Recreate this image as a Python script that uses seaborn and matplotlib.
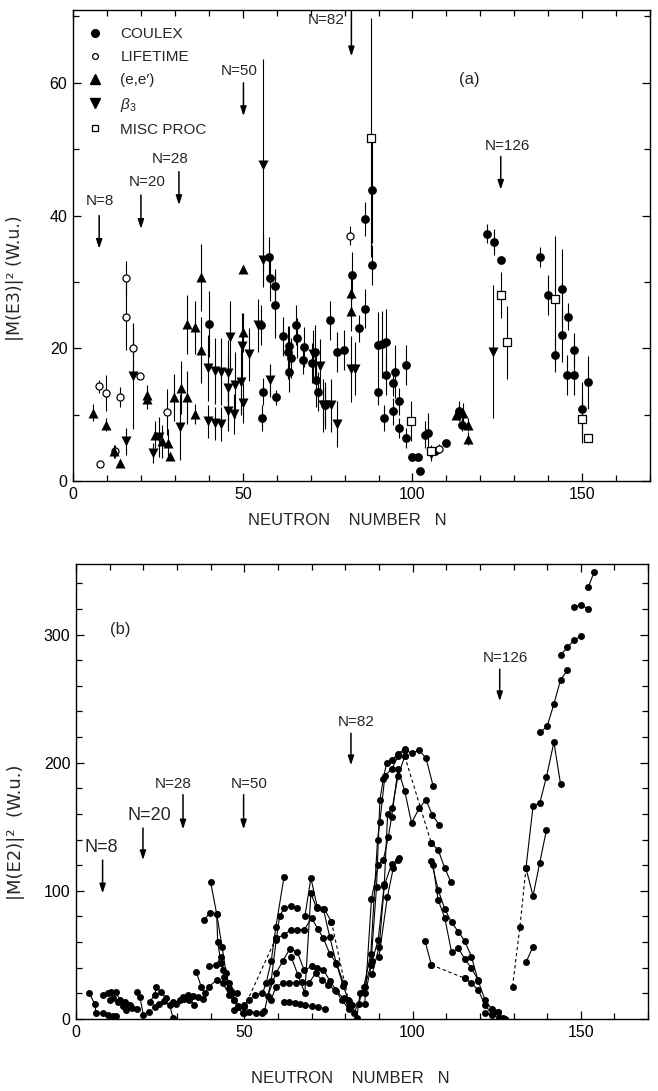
import matplotlib
matplotlib.use("Agg")
import matplotlib.pyplot as plt
import seaborn as sns
import pandas as pd
from matplotlib.lines import Line2D
from matplotlib.ticker import MultipleLocator

# ---------------- (a) |M(E3)|^2 data ----------------
coulex_n = [40, 55.9, 55.8, 57.6, 58, 59.6, 59.6, 59.8, 61.9, 63.6, 63.3, 64.2, 63.7, 65.8, 66,
            67.7, 68.1, 70.3, 71.4, 71.7, 72.2, 74.1, 75.8, 77.8, 79.7, 82.1, 84.2, 86.0, 86.1,
            88.0, 88.0, 89.9, 90.9, 92.1, 89.9, 91.7, 92.2, 94.2, 94.9, 96.1, 94.2, 98.2, 96.0,
            98.2, 99.8, 101.7, 102.2, 103.6, 104.5, 106.5, 110.0, 113.8, 114.6, 122.0, 124.0,
            126.0, 137.5, 139.8, 143.9, 145.7, 143.9, 142.0, 147.6, 145.6, 147.6, 149.8, 151.8, 55.5]
coulex_v = [23.7, 13.5, 9.5, 33.8, 30.6, 29.4, 26.5, 12.6, 21.8, 20.4, 19.4, 18.5, 16.5, 23.5, 21.5,
            18.2, 20.2, 17.8, 19.5, 15.2, 13.5, 11.4, 24.2, 19.5, 19.8, 31.0, 23.0, 39.5, 26.0,
            43.8, 32.6, 20.5, 20.6, 21.0, 13.5, 9.5, 16.0, 14.8, 16.5, 12.0, 10.5, 17.5, 8.0,
            6.5, 3.6, 3.6, 1.6, 7.0, 7.2, 4.6, 5.7, 10.5, 8.5, 37.3, 36.0,
            33.3, 33.8, 28.0, 29.0, 24.8, 22.0, 19.0, 19.8, 16.0, 16.0, 10.9, 14.9, 23.5]
coulex_e = [5.0, 2.0, 2.0, 3.0, 3.5, 2.5, 5.0, 1.2, 3.0, 3.0, 4.0, 3.0, 3.0, 3.0, 3.0,
            2.0, 3.0, 3.0, 4.0, 4.0, 3.0, 3.0, 3.0, 3.0, 3.0, 3.5, 2.0, 2.5, 3.0,
            8.0, 3.0, 5.0, 5.0, 5.0, 2.0, 2.0, 3.0, 2.0, 4.0, 2.0, 2.0, 3.0, 1.5,
            1.5, 0.0, 0.0, 0.0, 2.0, 3.0, 0.5, 0.0, 1.5, 1.0, 1.5, 2.0,
            0.0, 1.5, 3.0, 6.0, 2.0, 4.0, 2.5, 2.5, 3.0, 3.0, 4.0, 4.0, 3.0]

lifetime_n = [7.7, 9.7, 7.8, 12.3, 13.8, 15.7, 15.7, 17.7, 19.6, 27.7, 81.5, 107.8]
lifetime_v = [14.3, 13.3, 2.6, 4.5, 12.7, 30.6, 24.7, 20.1, 15.8, 10.4, 37.0, 4.9]
lifetime_e = [1.0, 2.7, 0.0, 1.0, 1.5, 2.5, 5.0, 3.5, 0.0, 3.5, 1.5, 0.7]

ee_n = [5.8, 9.8, 12.1, 13.9, 21.9, 21.9, 24.1, 26.1, 28.0, 28.5, 29.7, 31.7, 33.7, 33.7,
        35.8, 35.8, 37.8, 37.8, 50.2, 50.2, 82.0, 82.0, 112.8, 114.8, 116.3, 116.3]
ee_v = [10.3, 8.5, 4.5, 2.7, 13.0, 12.3, 7.0, 6.0, 5.8, 3.8, 12.6, 14.1, 12.6, 23.6,
        23.2, 10.1, 30.7, 19.8, 31.9, 22.4, 28.3, 25.6, 10.0, 10.2, 8.5, 6.4]
ee_e = [1.3, 1.0, 1.0, 0.0, 1.5, 1.5, 2.0, 2.5, 2.0, 0.5, 3.5, 4.0, 4.0, 4.5,
        4.0, 1.5, 5.0, 5.0, 0.5, 3.0, 3.0, 3.0, 0.5, 1.5, 1.0, 1.0]

beta3_n = [15.5, 17.8, 23.6, 25.4, 31.6, 39.7, 41.7, 43.6, 45.6, 39.7, 41.7, 43.6, 46.1, 45.6,
           47.8, 49.5, 49.8, 50.0, 51.7, 45.6, 47.5, 54.5, 55.9, 55.9, 57.9, 70.6, 72.7, 73.5,
           74.1, 76.1, 77.8, 82.0, 83.0, 105.6, 123.8]
beta3_v = [6.0, 15.8, 4.3, 6.7, 8.2, 17.0, 16.6, 16.5, 16.3, 9.0, 8.7, 8.6, 21.7, 14.0,
           14.5, 14.9, 20.3, 11.8, 19.1, 10.6, 10.1, 23.5, 47.6, 33.3, 15.2, 19.2, 17.4, 11.4,
           11.4, 11.4, 8.6, 16.9, 16.9, 4.1, 19.5]
beta3_e = [2.0, 8.0, 1.5, 3.0, 5.0, 5.0, 5.0, 5.0, 5.0, 2.5, 2.5, 2.5, 5.5, 5.0,
           5.0, 5.0, 5.0, 3.0, 4.0, 3.0, 3.0, 4.0, 16.0, 4.0, 2.5, 3.5, 4.0, 4.0,
           3.5, 4.0, 3.5, 5.0, 4.0, 1.0, 10.0]

misc_n = [87.8, 99.7, 105.6, 126.0, 127.8, 141.9, 149.8, 151.8]
misc_v = [51.7, 9.1, 4.5, 28.0, 20.9, 27.4, 9.3, 6.5]
misc_e = [18.0, 3.0, 1.0, 3.5, 5.5, 9.5, 3.5, 0.3]

legend_labels = ["COULEX", "LIFETIME", "(e,e\u2032)", r"$\beta_3$", "MISC PROC"]

# shell closures: label, arrow N, text N, text y, arrow start, arrow end
shells_a_label = ["N=8", "N=20", "N=28", "N=50", "N=82", "N=126"]
shells_a_n = [7.7, 20.0, 31.2, 50.2, 82.0, 126.0]
shells_a_tx = [7.9, 21.8, 28.5, 48.8, 74.7, 128.0]
shells_a_ty = [41.2, 44.0, 47.4, 60.8, 69.4, 49.5]
shells_a_y0 = [40.0, 43.1, 46.6, 60.0, 70.8, 48.9]
shells_a_y1 = [35.0, 38.0, 41.6, 55.0, 64.0, 43.9]

# ---------------- (b) |M(E2)|^2 data (isotopic chains) ----------------
c01_n = [4, 5.5, 6, 8, 9.5, 11, 12];              c01_v = [20, 12, 5, 4.4, 3, 2.3, 2.3]
c02_n = [8, 9.5, 10.5, 11.8, 13, 14.5, 16];       c02_v = [19, 20, 21, 21.4, 15, 13.5, 11]
c03_n = [10, 11, 12.5, 14, 15];                   c03_v = [15, 16, 13, 10, 7]
c04_n = [15.5, 16.5, 18];                         c04_v = [11, 8.3, 7.6]
c05_n = [18, 19, 20, 21.7];                       c05_v = [21, 17.4, 3, 5.7]
c06_n = [21.9, 23.4, 23.9, 25.3, 26.8];           c06_v = [13.5, 18.8, 25, 21, 16]
c07_n = [23.4, 24.7, 26, 27.8, 28.8];             c07_v = [9.6, 12, 14, 11, 1]
c08_n = [28.8, 29.8, 30.8, 32.2, 33.7, 35.2];     c08_v = [13.5, 12, 14.8, 15.4, 14.8, 11]
c09_n = [31.8, 33.2, 34.7, 36.2, 37.7];           c09_v = [17.4, 18.8, 18, 17.4, 15.4]
c10_n = [35.7, 37.2, 38.2, 39.6, 41.8, 43.6, 45.6, 47, 48, 49.5]
c10_v = [37, 25.3, 20.6, 25.3, 30.5, 27.9, 18.8, 14.8, 9.6, 4.4]
c11_n = [40, 41.8, 42.1, 43.1, 44.1, 45.6, 47];   c11_v = [107, 82, 60, 43.5, 33, 24, 15]
c12_n = [38, 39.8, 41.8, 43.4, 44.6, 46, 47.7];   c12_v = [77, 83, 82, 56.5, 35.7, 22, 20]
c13_n = [39.6, 41.6, 43.1, 43.8, 45.4, 46.5, 48]; c13_v = [41, 42, 48.7, 38.3, 27.9, 20, 10]
c14_n = [50, 51.5, 53.5, 55.4];                   c14_v = [5, 5.7, 5, 4.4]
c15_n = [47, 49.8, 51.5, 53.3, 55.4, 56.5, 58, 59.4, 61.8]
c15_v = [7, 11, 14.8, 18.8, 20, 28, 45, 72, 110.7]
c16_n = [56, 58, 59.5, 60.5, 61.8, 63.8, 65.8];   c16_v = [6, 30, 62, 80, 86.5, 88, 86.5]
c17_n = [50, 59.4];                               c17_v = [9, 63]          # dashed
c18_n = [59.4, 61.8, 63.8, 65.6, 67.8, 70, 71.9, 73.5, 75.4, 77.4, 79.5]
c18_v = [63, 65.6, 69.5, 69.5, 69.5, 79, 70, 63, 51, 43.5, 28]
c19_n = [57, 59.4, 61.4, 63.6, 65.8, 67.8, 70, 71.5, 73.5, 75.4, 77.4, 79.5, 81]
c19_v = [18, 35.7, 45, 55, 52, 38, 41, 39.6, 38.3, 30, 22, 16, 10]
c20_n = [58, 59.4, 61.4, 63.3, 65.3, 67.3, 69.2, 71.2, 73, 75, 77, 79, 81]
c20_v = [15, 25.3, 27.9, 27.9, 28.4, 29.2, 28, 35.7, 30.5, 26.6, 22.7, 14.8, 8]
c21_n = [61.8, 63.4, 65, 66.5, 68, 70, 72, 74];   c21_v = [13.5, 13, 12.5, 12, 11, 10, 9, 8]
c22_n = [64, 66, 68, 69.8, 71.5, 73.5, 75.4, 77.4, 79.4, 81]
c22_v = [48, 34, 20, 98, 86.5, 85.7, 64, 43, 26, 14]
c23_n = [68, 69.8, 71.7, 73.7, 75.9];             c23_v = [80, 110, 87, 86, 76]
c24_n = [75.9, 80.9];                             c24_v = [76, 14.8]       # dashed
c25_n = [80.9, 81.9, 83.4, 84.4, 85.8, 87.6, 89.3, 90.3, 91.3, 92.3, 93.8, 95.7, 97.7]
c25_v = [14.8, 11, 0.5, 20, 25, 42, 103, 171, 187, 200, 202, 207, 211]
c26_n = [82.5, 84, 85.5, 87.6, 89.6, 90.3, 91.8, 93.8, 95.7, 97.7, 99.7, 102, 104, 106.1]
c26_v = [5, 12, 25, 51, 140, 154, 190, 195, 205, 210, 207.5, 209.6, 203.6, 182]
c27_n = [85.8, 87.8, 89.8, 91.3, 92.8, 93.8, 95.7, 97.7, 99.7, 102, 104, 105.9, 107.9]
c27_v = [12, 94, 120, 124, 142, 158, 195, 177.6, 153, 164.6, 171, 159, 151.6]
c28_n = [86, 88, 89.8, 91.6, 92.6, 94, 95.7, 97.7]; c28_v = [20, 45, 62, 105, 160, 165, 190, 205]
c29_n = [97.7, 105.6];                            c29_v = [205, 137]       # dashed
c30_n = [105.6, 107.6, 109.6, 111.4];             c30_v = [137, 132, 117.7, 106.8]
c31_n = [88, 90.1, 91.6, 93.8, 95.7];             c31_v = [35, 56.5, 104, 121, 124]
c32_n = [90, 92.5, 94.3, 96];                     c32_v = [48, 95, 118, 125.5]
c33_n = [105.6, 107.6, 109.6, 111.6, 113.6, 115.5, 117.5, 119.5, 121.5, 123.5, 125.4]
c33_v = [123, 100.8, 85.7, 75.3, 68.2, 61, 48.7, 29.7, 15, 8, 5.7]
c34_n = [106.1, 107.6, 109.6, 111.6, 113.6, 115.5, 117.5, 119.5]
c34_v = [120, 93, 78.6, 52, 55.2, 46.9, 39.6, 30.5]
c35_n = [103.7, 105.6];                           c35_v = [61, 42.2]
c36_n = [105.6, 115.5];                           c36_v = [42.2, 31.8]     # dashed
c37_n = [115.5, 117.5, 119.5, 121.5, 123.5, 125.6, 127.4]
c37_v = [31.8, 27.9, 22.7, 11, 4, 0.5, 0]
c38_n = [121.5, 123.5, 125.4, 127];               c38_v = [4.4, 3.1, 5.7, 0.5]
c39_n = [129.7, 131.9, 133.7];                    c39_v = [25.3, 72, 117.7]  # dashed
c40_n = [133.7, 135.8, 137.8, 139.8, 142, 144];   c40_v = [117.7, 166, 168.5, 189, 216, 183]
c41_n = [133.7, 135.8, 137.8, 139.8];             c41_v = [117.7, 96, 122, 147.6]
c42_n = [133.8, 135.8];                           c42_v = [44.8, 56.5]
c43_n = [138, 140, 142, 144, 146];                c43_v = [223.7, 228.4, 245.8, 264.8, 272]
c44_n = [144, 146, 148, 150];                     c44_v = [284, 290, 295.6, 298.7]
c45_n = [148, 150, 152];                          c45_v = [321.4, 323.4, 320]
c46_n = [152.2, 154];                             c46_v = [337, 349]

dashed_chains = ["c17", "c24", "c29", "c36", "c39"]

shells_b_label = ["N=8", "N=20", "N=28", "N=50", "N=82", "N=126"]
shells_b_n = [7.9, 19.9, 31.8, 49.8, 81.7, 125.9]
shells_b_tx = [7.6, 21.9, 29.0, 51.5, 83.4, 127.7]
shells_b_ty = [127, 152, 178, 178, 226, 276]
shells_b_y0 = [124, 149, 175, 175, 223, 273]
shells_b_y1 = [98, 124, 148, 148, 198, 248]

# ---------------- styling ----------------
sns.set_theme(style="ticks")
plt.rcParams['font.family'] = ['Liberation Sans', 'DejaVu Sans']
plt.rcParams['mathtext.fontset'] = 'custom'
plt.rcParams['mathtext.rm'] = 'Liberation Sans'
plt.rcParams['mathtext.it'] = 'Liberation Sans:italic'

fig = plt.figure(figsize=(6.58, 10.91), dpi=100)
fig.patch.set_facecolor('white')
ax1 = fig.add_axes([0.111, 0.559, 0.877, 0.432])
ax2 = fig.add_axes([0.1155, 0.066, 0.8695, 0.417])

for ax in (ax1, ax2):
    ax.set_facecolor('white')
    for sp in ax.spines.values():
        sp.set_linewidth(1.0)
        sp.set_color('black')
    ax.tick_params(which='both', direction='in', top=True, right=True,
                   colors='black', labelsize=11.5, width=0.9)
    ax.tick_params(which='major', length=6, pad=4)
    ax.tick_params(which='minor', length=4)
    ax.xaxis.set_major_locator(MultipleLocator(50))
    ax.xaxis.set_minor_locator(MultipleLocator(10))
    ax.set_xlim(0, 170)


def arrow(ax, n, y0, y1):
    ax.annotate('', xy=(n, y1), xytext=(n, y0),
                arrowprops=dict(arrowstyle='-|>,head_length=0.55,head_width=0.18',
                                color='black', lw=1.1, shrinkA=0, shrinkB=0,
                                mutation_scale=10))

# ---- panel (a) ----
err_kw = dict(fmt='none', ecolor='black', elinewidth=0.8, capsize=0, zorder=2)
ax1.errorbar(coulex_n, coulex_v, yerr=coulex_e, **err_kw)
ax1.errorbar(lifetime_n, lifetime_v, yerr=lifetime_e, **err_kw)
ax1.errorbar(ee_n, ee_v, yerr=ee_e, **err_kw)
ax1.errorbar(beta3_n, beta3_v, yerr=beta3_e, **err_kw)
ax1.errorbar(misc_n, misc_v, yerr=misc_e, **err_kw)

sns.scatterplot(x=coulex_n, y=coulex_v, marker='o', color='black', s=40,
                linewidth=0, ax=ax1, zorder=3)
sns.scatterplot(x=lifetime_n, y=lifetime_v, marker='o', color='white', edgecolor='black',
                s=26, linewidth=0.9, ax=ax1, zorder=3)
sns.scatterplot(x=ee_n, y=ee_v, marker='^', color='black', s=52,
                linewidth=0, ax=ax1, zorder=3)
sns.scatterplot(x=beta3_n, y=beta3_v, marker='v', color='black', s=52,
                linewidth=0, ax=ax1, zorder=3)
sns.scatterplot(x=misc_n, y=misc_v, marker='s', color='white', edgecolor='black',
                s=40, linewidth=0.9, ax=ax1, zorder=3)

ax1.set_ylim(0, 71)
ax1.yaxis.set_major_locator(MultipleLocator(20))
ax1.yaxis.set_minor_locator(MultipleLocator(10))
ax1.set_xlabel('NEUTRON    NUMBER   N', fontsize=12)
ax1.set_ylabel('|M(E3)|\u00b2 (W.u.)', fontsize=12.5, family=['DejaVu Sans'])
ax1.xaxis.set_label_coords(0.475, -0.068)
ax1.yaxis.set_label_coords(-0.085, 0.43)

handles = [
    Line2D([], [], ls='none', marker='o', color='black', ms=5.5),
    Line2D([], [], ls='none', marker='o', mfc='white', mec='black', ms=4.2, mew=0.9),
    Line2D([], [], ls='none', marker='^', color='black', ms=6.5),
    Line2D([], [], ls='none', marker='v', color='black', ms=6.5),
    Line2D([], [], ls='none', marker='s', mfc='white', mec='black', ms=4.2, mew=0.9),
]
ax1.legend(handles, legend_labels, loc='upper left', bbox_to_anchor=(0.0, 0.963),
           frameon=False, fontsize=11, handlelength=2.9, handletextpad=0.2,
           labelspacing=0.58, borderaxespad=0.0, borderpad=0.0)

for lab, n, tx, ty, y0, y1 in zip(shells_a_label, shells_a_n, shells_a_tx, shells_a_ty,
                                  shells_a_y0, shells_a_y1):
    arrow(ax1, n, y0, y1)
    ax1.text(tx, ty, lab, ha='center', va='bottom' if lab != "N=82" else 'center',
             fontsize=11)
ax1.text(116.8, 60.5, '(a)', ha='center', va='center', fontsize=12)

# ---- panel (b) ----
chains = {}
for i in range(1, 47):
    key = f"c{i:02d}"
    chains[key] = (globals()[key + "_n"], globals()[key + "_v"])

rows = []
for key, (ns, vs) in chains.items():
    for n, v in zip(ns, vs):
        rows.append({"chain": key, "N": n, "B": v,
                     "dashed": key in dashed_chains})
df = pd.DataFrame(rows)

sns.lineplot(data=df[~df.dashed], x="N", y="B", units="chain", estimator=None, sort=False,
             color='black', lw=0.8, marker='o', markersize=5, markeredgewidth=0,
             ax=ax2, zorder=3)
sns.lineplot(data=df[df.dashed], x="N", y="B", units="chain", estimator=None, sort=False,
             color='black', lw=0.8, linestyle=(0, (3, 2.5)), marker='o', markersize=5,
             markeredgewidth=0, ax=ax2, zorder=3)

ax2.set_ylim(0, 355)
ax2.yaxis.set_major_locator(MultipleLocator(100))
ax2.yaxis.set_minor_locator(MultipleLocator(20))
ax2.set_xlabel('NEUTRON    NUMBER   N', fontsize=12)
ax2.set_ylabel('|M(E2)|\u00b2  (W.u.)', fontsize=13, family=['DejaVu Sans'])
ax2.xaxis.set_label_coords(0.48, -0.115)
ax2.yaxis.set_label_coords(-0.09, 0.41)

for lab, n, tx, ty, y0, y1 in zip(shells_b_label, shells_b_n, shells_b_tx, shells_b_ty,
                                  shells_b_y0, shells_b_y1):
    arrow(ax2, n, y0, y1)
    ax2.text(tx, ty, lab, ha='center', va='bottom', fontsize=13 if lab in ("N=20", "N=8") else 11)
ax2.text(13.2, 304, '(b)', ha='center', va='center', fontsize=12)

fig.savefig('out.png', dpi=100, facecolor='white')
